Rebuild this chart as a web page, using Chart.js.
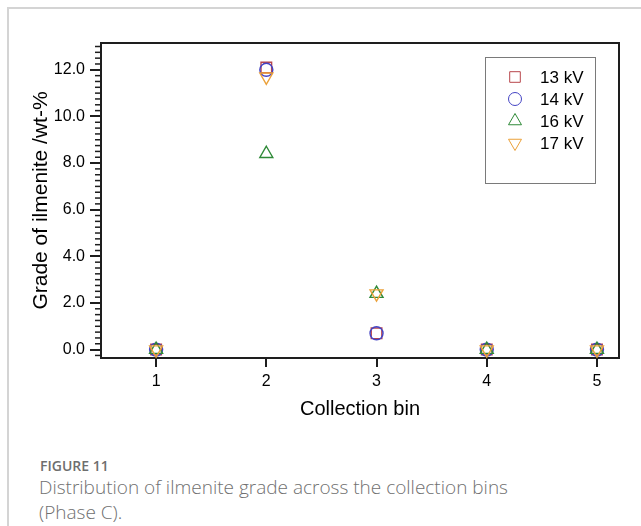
<!DOCTYPE html>
<html>
<head>
<meta charset="utf-8">
<script src="https://cdn.jsdelivr.net/npm/chart.js@4.4.1/dist/chart.umd.min.js"></script>
<style>
  html, body { margin: 0; padding: 0; background: #fff; }
  body { width: 641px; height: 526px; position: relative; overflow: hidden; }
  #card { position: absolute; left: 7px; top: 7px; right: -2px; bottom: -2px;
          border-left: 2px solid #d4d4d4; border-top: 2px solid #d4d4d4; }
  #wrap { position: absolute; left: 0; top: 0; width: 641px; height: 430px; }
  #fig { position: absolute; left: 40px; top: 456px; font-family: "Open Sans", sans-serif;
         font-size: 14px; font-weight: 600; color: #6e6e6e; }
  #cap { position: absolute; left: 39px; top: 475px; width: 590px; font-family: "Open Sans", sans-serif;
         font-size: 19px; line-height: 25px; color: #707070; font-weight: 300; }
</style>
</head>
<body>
<div id="card"></div>
<div id="wrap"><canvas id="grade"></canvas></div>
<div id="fig">FIGURE 11</div>
<div id="cap">Distribution of ilmenite grade across the collection bins<br>(Phase C).</div>
<script>
// collection bins and ilmenite grade (wt-%) per voltage
const bins = [1, 2, 3, 4, 5];
const kv13 = [0, 12.1, 0.7, 0, 0];
const kv14 = [0, 12.0, 0.7, 0, 0];
const kv16 = [0, 8.4, 2.4, 0, 0];
const kv17 = [0, 11.7, 2.4, 0, 0];
const seriesNames = ['13 kV', '14 kV', '16 kV', '17 kV'];
const xTicks = [1, 2, 3, 4, 5];
const yTicks = [0, 2, 4, 6, 8, 10, 12];

const FONT = '"Liberation Sans", Arial, sans-serif';
const AXIS = '#1e1e1e';

function pts(vals) {
    return bins.map((b, i) => ({x: b, y: vals[i]}));
}

// marker shapes drawn like Chart.js does
function marker(ctx, style, r, rot, x, y) {
    ctx.beginPath();
    if (style === 'rect') {
        const s = Math.SQRT1_2 * r;
        ctx.rect(x - s, y - s, 2 * s, 2 * s);
    } else if (style === 'circle') {
        ctx.arc(x, y, r, 0, Math.PI * 2);
    } else {
        let a = rot * Math.PI / 180;
        ctx.moveTo(x + Math.sin(a) * r, y - Math.cos(a) * r);
        a += 2 * Math.PI / 3;
        ctx.lineTo(x + Math.sin(a) * r, y - Math.cos(a) * r);
        a += 2 * Math.PI / 3;
        ctx.lineTo(x + Math.sin(a) * r, y - Math.cos(a) * r);
        ctx.closePath();
    }
    ctx.stroke();
}

const framePlugin = {
    id: 'frame',
    afterDraw(chart) {
        const {ctx, chartArea: a} = chart;
        const y = chart.scales.y;
        ctx.save();
        ctx.strokeStyle = AXIS;
        ctx.lineWidth = 2;
        ctx.beginPath();
        ctx.moveTo(a.left - 1, a.top);
        ctx.lineTo(a.right, a.top);
        ctx.lineTo(a.right, a.bottom + 1);
        ctx.stroke();
        // minor ticks on y
        ctx.lineWidth = 1.5;
        for (let k = -1; k <= 53; k++) {
            const v = k * 0.25;
            if (k % 8 === 0) continue;
            const p = y.getPixelForValue(v);
            if (p < a.top + 2 || p > a.bottom - 2) continue;
            ctx.beginPath();
            ctx.moveTo(a.left - 6, p);
            ctx.lineTo(a.left, p);
            ctx.stroke();
        }
        ctx.restore();
    },
    afterDatasetsDraw(chart) {
        const {ctx, chartArea: a} = chart;
        const bx = a.right - 134, by = a.top + 14, bw = 110, bh = 126;
        ctx.save();
        ctx.fillStyle = '#fff';
        ctx.fillRect(bx, by, bw, bh);
        ctx.strokeStyle = '#7a7a7a';
        ctx.lineWidth = 1;
        ctx.strokeRect(bx + 0.5, by + 0.5, bw, bh);
        ctx.font = '17px ' + FONT;
        ctx.textBaseline = 'middle';
        chart.data.datasets.forEach((ds, i) => {
            const ry = by + 20 + i * 22;
            ctx.strokeStyle = ds.borderColor;
            ctx.lineWidth = ds.borderWidth;
            marker(ctx, ds.pointStyle, ds.pointRadius, ds.rotation || 0, bx + 30, ry);
            ctx.fillStyle = '#000';
            ctx.fillText(ds.label, bx + 55, ry + 1);
        });
        ctx.restore();
    }
};

const ctx = document.getElementById('grade').getContext('2d');
const gradeChart = new Chart(ctx, {
    type: 'scatter',
    data: {
        datasets: [{
            label: seriesNames[0],
            data: pts(kv13),
            pointStyle: 'rect',
            pointRadius: 7.5,
            borderColor: '#b8464c',
            order: 4
        }, {
            label: seriesNames[1],
            data: pts(kv14),
            pointStyle: 'circle',
            pointRadius: 6.5,
            borderColor: '#4444c4',
            order: 3
        }, {
            label: seriesNames[2],
            data: pts(kv16),
            pointStyle: 'triangle',
            pointRadius: 7.5,
            borderColor: '#2f8a38',
            order: 2
        }, {
            label: seriesNames[3],
            data: pts(kv17),
            pointStyle: 'triangle',
            rotation: 180,
            pointRadius: 7.5,
            borderColor: '#eba13a',
            order: 1
        }]
    },
    options: {
        responsive: true,
        maintainAspectRatio: false,
        animation: false,
        events: [],
        layout: {
            padding: {top: 43, right: 22, left: 0, bottom: 0}
        },
        elements: {
            point: {
                backgroundColor: 'rgba(0,0,0,0)',
                borderWidth: 1.4,
                hoverRadius: 0
            }
        },
        datasets: {
            scatter: {clip: false}
        },
        scales: {
            x: {
                type: 'linear',
                min: 0.5,
                max: 5.2,
                afterBuildTicks: s => { s.ticks = xTicks.map(v => ({value: v})); },
                afterFit: s => { s.height = 72; },
                ticks: {
                    color: '#000',
                    padding: 5,
                    font: {family: FONT, size: 16}
                },
                grid: {
                    drawOnChartArea: false,
                    drawTicks: true,
                    tickLength: 9,
                    color: AXIS,
                    lineWidth: 2
                },
                border: {color: AXIS, width: 2},
                title: {
                    display: true,
                    text: 'Collection bin',
                    color: '#000',
                    font: {family: FONT, size: 20},
                    padding: {top: 2, bottom: 9}
                }
            },
            y: {
                type: 'linear',
                min: -0.36,
                max: 13.15,
                afterBuildTicks: s => { s.ticks = yTicks.map(v => ({value: v})); },
                afterFit: s => { s.width = 101; },
                ticks: {
                    color: '#000',
                    padding: 5,
                    font: {family: FONT, size: 16},
                    callback: v => v.toFixed(1)
                },
                grid: {
                    drawOnChartArea: false,
                    drawTicks: true,
                    tickLength: 11,
                    color: AXIS,
                    lineWidth: 2
                },
                border: {color: AXIS, width: 2},
                title: {
                    display: true,
                    text: 'Grade of ilmenite /wt-%',
                    color: '#000',
                    font: {family: FONT, size: 21},
                    padding: {top: 29, bottom: 0}
                }
            }
        },
        plugins: {
            legend: {display: false},
            tooltip: {enabled: false}
        }
    },
    plugins: [framePlugin]
});
</script>
</body>
</html>
